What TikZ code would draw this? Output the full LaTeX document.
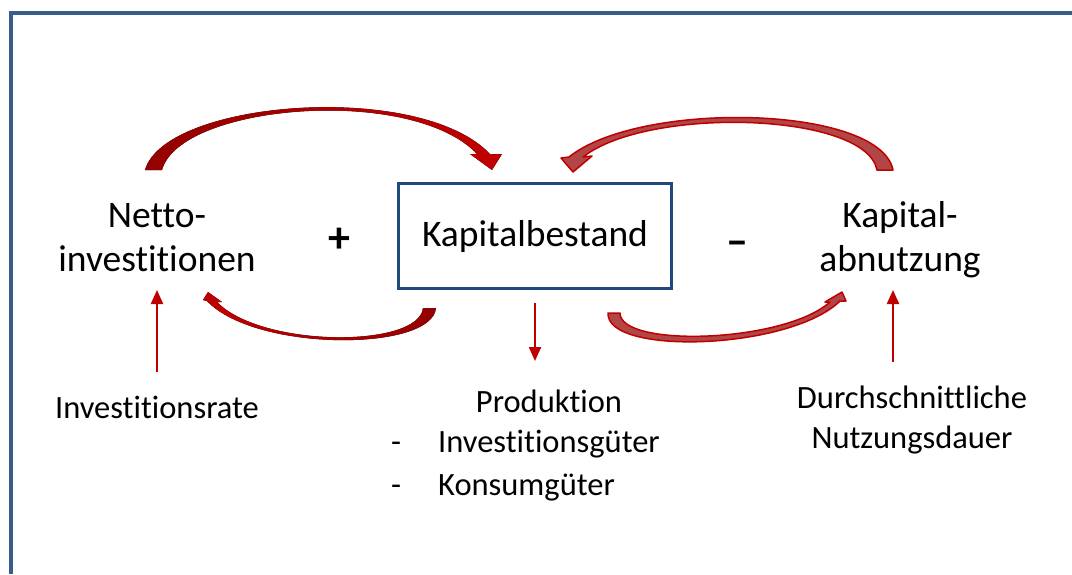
\documentclass[tikz,border=0pt]{standalone}
\usepackage{fontspec}
\setmainfont{Carlito}[Ligatures=NoCommon]
\usetikzlibrary{arrows.meta}
\definecolor{frameblue}{HTML}{385D8A}
\definecolor{boxblue}{HTML}{1F497D}
\definecolor{arrred}{HTML}{C00000}
\definecolor{arrdark}{HTML}{940000}
\definecolor{arrfill}{HTML}{B24545}
\tikzset{
  bigtext/.style={font=\fontsize{37.5}{45}\selectfont, inner sep=0pt, anchor=base},
  smalltext/.style={font=\fontsize{32.5}{40}\selectfont, inner sep=0pt, anchor=base},
  signtext/.style={font=\bfseries\fontsize{44}{50}\selectfont, inner sep=0pt},
  stockbox/.style={draw=boxblue, line width=3pt, minimum width=273pt, minimum height=105pt,
    inner sep=0pt},
  thinarrow/.style={draw=arrred, line width=2.2pt, -{Triangle[length=14pt,width=12pt]}},
  flowoutline/.style={fill=arrfill, draw=arrred, line width=1.5pt, line join=round}
}
\begin{document}
\begin{tikzpicture}[x=1pt,y=-1pt]
\useasboundingbox (0,0) rectangle (1072,574);
% frame
\draw[frameblue, line width=4pt] (1072,13) -- (11,13) -- (11,574);

% central stock
\node[stockbox] (kb) at (535,236) {};
\node[bigtext] (kbtext) at (535,246) {Kapitalbestand};

% inflow and outflow labels
\node[bigtext] (netto1) at (157,227) {Netto-};
\node[bigtext] (netto2) at (157,271) {investitionen};
\node[bigtext] (abn1) at (900,227) {Kapital-};
\node[bigtext] (abn2) at (900,271) {abnutzung};
\node[signtext] (plus) at (339,240) {+};
\node[signtext] (minus) at (737,248) {–};

% drivers and uses
\node[smalltext] (rate) at (157,418) {Investitionsrate};
\node[smalltext] (prod) at (549,412) {Produktion};
\node[smalltext, anchor=base west] (prod1) at (438,452) {Investitionsgüter};
\node[smalltext, anchor=base west] (prod2) at (438,495) {Konsumgüter};
\node[smalltext] (dash1) at (396,452) {-};
\node[smalltext] (dash2) at (396,495) {-};
\node[smalltext] (dur1) at (912,408) {Durchschnittliche};
\node[smalltext] (dur2) at (912,448) {Nutzungsdauer};

% straight arrows
\coordinate (rateS) at (157,372);
\coordinate (rateE) at (157,290);
\coordinate (prodS) at (535,303);
\coordinate (prodE) at (535,361);
\coordinate (durS) at (893,362);
\coordinate (durE) at (893,290);
\draw[thinarrow] (rateS) -- (rateE);
\draw[thinarrow] (prodS) -- (prodE);
\draw[thinarrow] (durS) -- (durE);

% curved flow arrows
% net investment into the stock
\fill[left color=arrdark, right color=arrred]
  (145,170) .. controls (165,100) and (420,80) .. (490,154)
  -- (502,154) -- (492,170) -- (470,154) -- (477,154)
  .. controls (412,85) and (180,104) .. (162,170) -- cycle;
% stock back to net investment
\fill[left color=arrred, right color=arrdark]
  (436,308) .. controls (432,352) and (255,352) .. (207,301)
  -- (203,300) -- (208,292) -- (222,302) -- (217,302)
  .. controls (262,348) and (419,348) .. (423,308) -- cycle;
% depreciation out of the stock
\filldraw[flowoutline]
  (893,170) .. controls (880,105) and (640,100) .. (569,157)
  -- (561,158) -- (573,172) -- (592,156) -- (583,157)
  .. controls (648,106) and (866,112) .. (877,170) -- cycle;
% stock to depreciation
\filldraw[flowoutline]
  (608,313) .. controls (606,356) and (790,350) .. (840,301)
  -- (846,301) -- (842,292) -- (825,302) -- (830,302)
  .. controls (784,343) and (620,348) .. (620,313) -- cycle;
\end{tikzpicture}
\end{document}
